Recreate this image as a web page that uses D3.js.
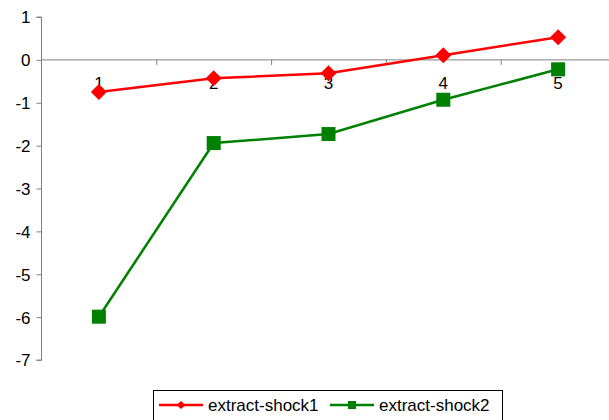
<!DOCTYPE html>
<html><head><meta charset="utf-8">
<script src="https://cdn.jsdelivr.net/npm/d3@7"></script>
<style>body{margin:0;background:#fff}svg{display:block}</style>
</head><body>
<script>
const categories = ["1","2","3","4","5"];
const shock1 = [-0.75, -0.43, -0.31, 0.11, 0.53];
const shock2 = [-5.99, -1.94, -1.73, -0.93, -0.22];
const seriesNames = ["extract-shock1","extract-shock2"];
const yTicks = [1,0,-1,-2,-3,-4,-5,-6,-7];

const W=609,H=420;
const svg=d3.select("body").append("svg").attr("width",W).attr("height",H);
const font="Liberation Sans, Arial, sans-serif";
const fs=17;
const x=d3.scaleBand().domain(categories).range([41.5,615.5]);
const y=d3.scaleLinear().domain([-7,1]).range([360,17]);

// y axis
const ya=svg.append("g").attr("transform","translate(41.5,0)")
  .call(d3.axisLeft(y).tickValues(yTicks).tickSize(5).tickPadding(6).tickFormat(d=>String(d)));
ya.select(".domain").attr("stroke","#808080").attr("d","M-5,"+y(1)+"H0V"+y(-7)+"H-5");
ya.selectAll(".tick line").attr("stroke","#808080");
ya.selectAll("text").attr("font-family",font).attr("font-size",fs).attr("fill","#000").attr("dy","0.35em");

// x axis at y=0
const xa=svg.append("g").attr("transform","translate(0,"+y(0)+")");
xa.append("line").attr("x1",41.5).attr("x2",W).attr("stroke","#808080");
categories.forEach((c,i)=>{
  if(i>0){const bx=x(c)+0.5; xa.append("line").attr("x1",bx).attr("x2",bx).attr("y1",0).attr("y2",5).attr("stroke","#808080");}
});
svg.append("g").selectAll("text").data(categories).join("text")
  .attr("x",d=>x(d)+x.bandwidth()/2).attr("y",89).attr("text-anchor","middle")
  .attr("font-family",font).attr("font-size",fs).text(d=>d);

const cx=d=>x(d)+x.bandwidth()/2;
const line=d3.line().x((d,i)=>cx(categories[i])).y(d=>y(d));
svg.append("path").datum(shock2).attr("d",line).attr("fill","none").attr("stroke","#008000").attr("stroke-width",2.5);
svg.append("path").datum(shock1).attr("d",line).attr("fill","none").attr("stroke","#ff0000").attr("stroke-width",2.5);

svg.append("g").selectAll("rect").data(shock2).join("rect")
  .attr("x",(d,i)=>cx(categories[i])-7).attr("y",d=>y(d)-7).attr("width",14).attr("height",14).attr("fill","#008000");
svg.append("g").selectAll("path").data(shock1).join("path")
  .attr("transform",(d,i)=>"translate("+cx(categories[i])+","+y(d)+")")
  .attr("d","M0,-8L8,0L0,8L-8,0Z").attr("fill","#ff0000");

// legend
const lg=svg.append("g");
lg.append("rect").attr("x",153.5).attr("y",390.5).attr("width",349).attr("height",40).attr("fill","#fff").attr("stroke","#000");
const items=[{x:159,color:"#ff0000",m:"d"},{x:330,color:"#008000",m:"s"}];
items.forEach((it,i)=>{
  lg.append("line").attr("x1",it.x).attr("x2",it.x+44).attr("y1",405).attr("y2",405).attr("stroke",it.color).attr("stroke-width",2.5);
  const mx=it.x+22;
  if(it.m==="d") lg.append("path").attr("d",`M${mx},401L${mx+4.5},405L${mx},409L${mx-4.5},405Z`).attr("fill",it.color);
  else lg.append("rect").attr("x",mx-4).attr("y",401).attr("width",8).attr("height",8).attr("fill",it.color);
  lg.append("text").attr("x",it.x+49).attr("y",411).attr("font-family",font).attr("font-size",fs).text(seriesNames[i]);
});
</script>
</body></html>
